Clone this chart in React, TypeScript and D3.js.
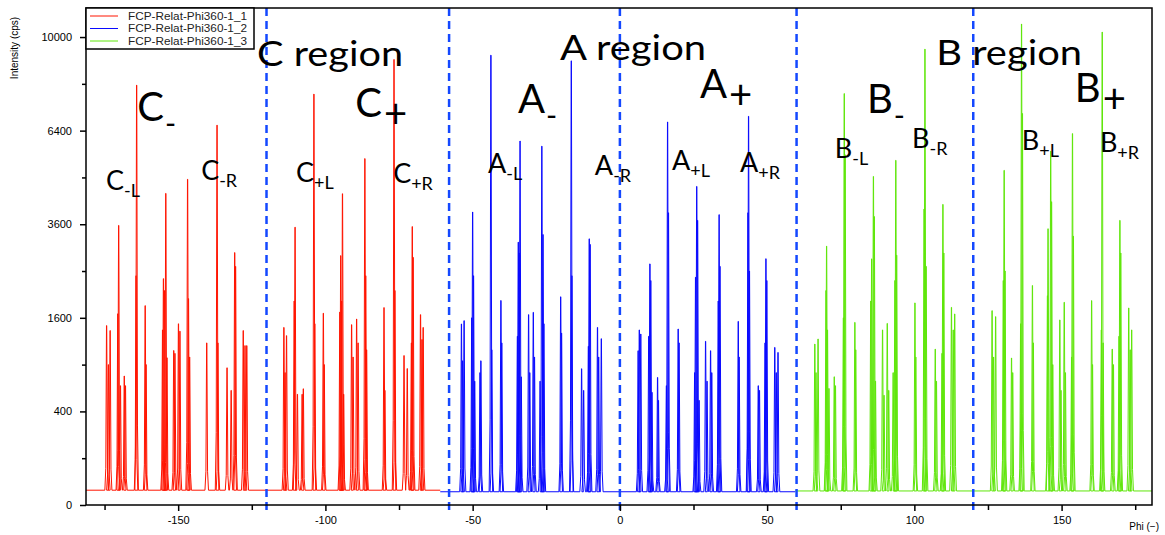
import React, { useRef, useEffect } from 'react';
import * as d3 from 'd3';

// peaks: [phi (deg), intensity (cps)]
const cMinusPeaks: [number, number][] = [
  [-174.3, 1470], [-173.7, 900], [-173.1, 1390], [-170.5, 1670], [-170.2, 3570], [-169.6, 650],
  [-168.3, 760], [-167.9, 650], [-164.3, 2400], [-164.1, 8050], [-161.2, 1815], [-160.9, 900],
  [-155.3, 1400], [-155.0, 2340], [-154.6, 2100], [-154.2, 4435], [-153.8, 990], [-151.5, 1090],
  [-151.1, 1050], [-149.9, 1500], [-149.4, 1380], [-146.8, 4845], [-146.5, 1945], [-146.1, 1000],
  [-140.3, 1200], [-136.8, 6590], [-136.5, 1200], [-133.4, 860], [-132.0, 600], [-130.8, 2910],
  [-130.5, 2600], [-127.9, 1390], [-127.3, 1160], [-126.7, 1160],
];
const cPlusPeaks: [number, number][] = [
  [-114.1, 1440], [-113.7, 800], [-113.2, 1310], [-110.6, 1900], [-110.3, 3525], [-109.5, 560],
  [-107.9, 560], [-107.5, 617], [-103.9, 7710], [-103.6, 1500], [-100.7, 1680], [-100.4, 900],
  [-95.1, 1700], [-94.8, 2840], [-94.5, 1900], [-94.2, 4425], [-93.8, 560], [-91.1, 1485],
  [-90.6, 1000], [-89.4, 1580], [-88.9, 1200], [-86.6, 5480], [-86.3, 2400], [-86.0, 1100],
  [-80.1, 1780], [-79.8, 600], [-76.7, 9065], [-76.4, 2100], [-73.3, 1020], [-72.2, 850],
  [-70.8, 1200], [-70.5, 3540], [-70.2, 2800], [-67.7, 1655], [-67.2, 1250], [-66.8, 1440],
];
const aMinusPeaks: [number, number][] = [
  [-53.8, 1497], [-53.4, 950], [-52.9, 1552], [-50.3, 1600], [-50.0, 3920], [-49.7, 2400],
  [-49.3, 700], [-47.5, 800], [-47.2, 950], [-43.8, 9240], [-43.5, 1100], [-40.4, 1910],
  [-40.1, 1200], [-34.8, 1300], [-34.5, 3155], [-34.2, 2900], [-33.9, 6050], [-33.5, 750],
  [-31.0, 1655], [-30.6, 800], [-29.4, 1695], [-29.0, 1000], [-27.1, 700], [-26.5, 5880],
  [-26.1, 3340], [-25.8, 1500], [-20.1, 1980], [-19.8, 1350], [-16.5, 9010], [-16.3, 2400],
  [-13.0, 848], [-12.3, 600], [-10.7, 1150], [-10.4, 3236], [-10.1, 3100], [-7.6, 1440],
  [-7.2, 1000], [-6.3, 1263],
];
const aPlusPeaks: [number, number][] = [
  [6.2, 1087], [6.6, 1400], [7.1, 1335], [9.8, 1300], [10.2, 2655], [10.5, 2300], [10.9, 580],
  [12.8, 743], [13.1, 500], [15.8, 650], [16.2, 6700], [16.5, 3900], [19.8, 1415], [20.1, 1200],
  [25.4, 800], [25.7, 2370], [26.1, 4635], [26.4, 3700], [26.9, 500], [29.1, 1224], [29.6, 700],
  [30.8, 1087], [31.2, 800], [33.4, 1900], [33.7, 3850], [34.0, 2600], [40.2, 1540], [40.5, 1000],
  [43.5, 3900], [43.7, 6900], [44.0, 2500], [47.0, 650], [47.4, 600], [49.3, 1200], [49.6, 2770],
  [49.9, 2300], [52.6, 1134], [53.1, 800], [53.7, 1063],
];
const bMinusPeaks: [number, number][] = [
  [66.2, 1183], [66.6, 800], [67.3, 1259], [70.0, 2100], [70.2, 3060], [70.5, 1400], [71.0, 620],
  [72.8, 751], [73.2, 650], [75.9, 1600], [76.2, 7730], [76.5, 5600], [79.8, 1523], [80.1, 1100],
  [85.2, 1900], [85.5, 2767], [86.1, 4930], [86.4, 3800], [86.8, 700], [89.2, 1400], [89.7, 550],
  [90.8, 1506], [91.3, 600], [92.8, 800], [93.4, 2300], [93.7, 5426], [94.0, 2850], [100.2, 1865],
  [100.5, 1000], [103.3, 4000], [103.6, 9490], [104.0, 2600], [107.1, 1110], [107.5, 700],
  [109.4, 1050], [109.7, 4127], [110.0, 2900], [112.6, 1784], [113.2, 1400], [113.7, 1667],
];
const bPlusPeaks: [number, number][] = [
  [126.4, 1725], [126.9, 1000], [127.6, 1620], [130.2, 2300], [130.5, 5115], [130.8, 2500],
  [133.0, 987], [133.4, 800], [136.1, 1500], [136.4, 10565], [136.7, 7000], [140.1, 2200],
  [140.4, 1200], [145.2, 2000], [145.4, 3485], [146.3, 5720], [146.6, 4200], [147.0, 900],
  [149.4, 1564], [149.8, 600], [150.9, 1877], [151.3, 800], [153.4, 1000], [153.7, 6300],
  [154.0, 3300], [160.2, 1908], [160.5, 900], [163.5, 1400], [163.8, 10215], [164.1, 1200],
  [167.2, 1110], [167.6, 900], [169.5, 1300], [169.8, 3700], [170.1, 2900], [172.8, 1773],
  [173.3, 1100], [173.8, 1400],
];

const seriesNames = ['FCP-Relat-Phi360-1_1', 'FCP-Relat-Phi360-1_2', 'FCP-Relat-Phi360-1_3'];
const seriesPeaks = [cMinusPeaks.concat(cPlusPeaks), aMinusPeaks.concat(aPlusPeaks), bMinusPeaks.concat(bPlusPeaks)];
const seriesSpan = [[-181.3, -61], [-61, 59.5], [59.5, 180.7]];
const seriesBase = [10, 8, 9];
const seriesColors = ['#ff1400', '#0a0aff', '#5fe60a'];

const regionBounds = [-120, -58, 0, 60, 120];
const yTicks = [0, 400, 1600, 3600, 6400, 10000];
const yMinorTicks = [100, 900, 2500, 4900, 8100];
const xTicks = [-150, -100, -50, 0, 50, 100, 150];
const xMinorTicks = [-175, -125, -75, -25, 25, 75, 125, 175];

// annotations anchored in data coords: [text, phi, cps]
const regionLabels: [string, number, number][] = [
  ['C region', -123.2, 8800], ['A region', -20.3, 9040], ['B region', 107.4, 8840],
];
const bigLabels: [string, string, number, number][] = [
  ['C', '-', -163.9, 6730], ['C', '+', -89.9, 6870], ['A', '-', -34.6, 7015],
  ['A', '+', 27.2, 7565], ['B', '-', 83.9, 7015], ['B', '+', 154.5, 7410],
];
const subLabels: [string, string, number, number][] = [
  ['C', '-L', -174.5, 4530], ['C', '-R', -142.2, 4820], ['C', '+L', -110, 4760], ['C', '+R', -77, 4735],
  ['A', '-L', -44.8, 5030], ['A', '-R', -8.5, 4970], ['A', '+L', 17.7, 5120], ['A', '+R', 40.8, 5060],
  ['B', '-L', 73, 5490], ['B', '-R', 99.2, 5820], ['B', '+L', 136.5, 5750], ['B', '+R', 163, 5690],
];

// peak outline: foot half-width, foot height (share of peak), base half-width
const PEAK_BASE = 0.6;
const PEAK_FOOT = 0.28;
const FOOT_SHARE = 0.035;

const App = () => {
  const svgRef = useRef<SVGSVGElement>(null);
  const width = 1165;
  const height = 535;
  const margin = { top: 8, right: 13, bottom: 30, left: 86 };

  useEffect(() => {
    const svg = d3.select(svgRef.current);
    svg.selectAll('*').remove();

    const x = d3.scaleLinear().domain([-181.3, 180.7]).range([margin.left, width - margin.right]);
    const y = d3.scaleSqrt().domain([0, 11280]).range([height - margin.bottom, margin.top]);

    svg.append('rect').attr('width', width).attr('height', height).attr('fill', '#fff');

    const line = d3.line<[number, number]>().x(d => x(d[0])).y(d => y(d[1]));

    seriesPeaks.forEach((peaks, i) => {
      const base = seriesBase[i];
      const pts: [number, number][] = [[seriesSpan[i][0], base]];
      peaks.slice().sort((a, b) => a[0] - b[0]).forEach(([p, h]) => {
        const foot = base + h * FOOT_SHARE;
        pts.push(
          [p - PEAK_BASE, base], [p - PEAK_FOOT, foot], [p - 0.04, h],
          [p + 0.04, h], [p + PEAK_FOOT, foot], [p + PEAK_BASE, base],
        );
      });
      pts.push([seriesSpan[i][1], base]);
      svg.append('path')
        .attr('d', line(pts))
        .attr('fill', 'none')
        .attr('stroke', seriesColors[i])
        .attr('stroke-width', 1)
        .attr('stroke-linejoin', 'round');
    });

    // region separators
    svg.append('g').selectAll('line')
      .data(regionBounds)
      .join('line')
      .attr('x1', d => x(d)).attr('x2', d => x(d))
      .attr('y1', margin.top).attr('y2', height - margin.bottom + 8)
      .attr('stroke', '#1448ff')
      .attr('stroke-width', 2.5)
      .attr('stroke-dasharray', '8,5');

    // frame
    svg.append('rect')
      .attr('x', margin.left).attr('y', margin.top)
      .attr('width', width - margin.left - margin.right)
      .attr('height', height - margin.top - margin.bottom)
      .attr('fill', 'none').attr('stroke', '#000').attr('stroke-width', 1.5);

    const tickFont = (g: any) => g.selectAll('text')
      .attr('font-family', 'Liberation Sans, Arial, sans-serif')
      .attr('font-size', 11)
      .attr('fill', '#000');

    svg.append('g')
      .attr('transform', `translate(${margin.left},0)`)
      .call(d3.axisLeft(y).tickValues(yTicks).tickSize(6).tickPadding(8).tickSizeOuter(0).tickFormat(d => String(d)))
      .call(g => g.select('.domain').remove())
      .call(tickFont);
    svg.append('g')
      .attr('transform', `translate(${margin.left},0)`)
      .call(d3.axisLeft(y).tickValues(yMinorTicks).tickSize(4).tickFormat(() => ''))
      .call(g => g.select('.domain').remove());

    svg.append('g')
      .attr('transform', `translate(0,${height - margin.bottom})`)
      .call(d3.axisBottom(x).tickValues(xTicks).tickSize(6).tickSizeOuter(0).tickFormat(d => String(d)))
      .call(g => g.select('.domain').remove())
      .call(tickFont)
      .call(g => g.selectAll('text').attr('dy', '0.95em'));
    svg.append('g')
      .attr('transform', `translate(0,${height - margin.bottom})`)
      .call(d3.axisBottom(x).tickValues(xMinorTicks).tickSize(5).tickFormat(() => ''))
      .call(g => g.select('.domain').remove());

    svg.selectAll('.tick line').attr('stroke-width', 1.5);

    svg.append('text')
      .attr('transform', `translate(18,48) rotate(-90)`)
      .attr('text-anchor', 'middle')
      .attr('font-family', 'Liberation Sans, Arial, sans-serif')
      .attr('font-size', 10)
      .text('Intensity (cps)');

    svg.append('text')
      .attr('x', width - 6).attr('y', height - 5)
      .attr('text-anchor', 'end')
      .attr('font-family', 'Liberation Sans, Arial, sans-serif')
      .attr('font-size', 10)
      .text('Phi (−)');

    // annotations
    const ann = svg.append('g').attr('font-family', 'Lato, "Open Sans", sans-serif').attr('fill', '#000');

    ann.selectAll('text.region')
      .data(regionLabels)
      .join('text')
      .attr('class', 'region')
      .attr('x', d => x(d[1])).attr('y', d => y(d[2]))
      .attr('font-size', 35)
      .attr('textLength', 146)
      .attr('lengthAdjust', 'spacingAndGlyphs')
      .text(d => d[0]);

    bigLabels.forEach(([main, sub, p, c]) => {
      const t = ann.append('text').attr('x', x(p)).attr('y', y(c)).attr('font-size', 40);
      t.append('tspan').text(main);
      if (sub === '+') {
        t.append('tspan').attr('dy', 11).attr('dx', 2).text('+');
      } else {
        t.append('tspan').attr('dy', 13).attr('dx', 1).attr('font-size', 30).text('-');
      }
    });

    subLabels.forEach(([main, sub, p, c]) => {
      const t = ann.append('text').attr('x', x(p)).attr('y', y(c)).attr('font-size', 27);
      t.append('tspan').text(main);
      t.append('tspan').attr('dy', 7).attr('font-size', 18).text(sub);
    });

    // legend
    const lg = svg.append('g').attr('transform', `translate(${margin.left},${margin.top})`);
    lg.append('rect').attr('width', 168).attr('height', 41)
      .attr('fill', '#fff').attr('stroke', '#000').attr('stroke-width', 1.5);
    seriesNames.forEach((name, i) => {
      const yy = 8 + i * 12.5;
      lg.append('line').attr('x1', 4).attr('x2', 32).attr('y1', yy).attr('y2', yy)
        .attr('stroke', seriesColors[i]).attr('stroke-width', 1);
      lg.append('text').attr('x', 42).attr('y', yy).attr('dy', '0.35em')
        .attr('font-family', 'Liberation Sans, Arial, sans-serif')
        .attr('font-size', 10.5)
        .attr('textLength', 119).attr('lengthAdjust', 'spacingAndGlyphs')
        .attr('fill', '#222')
        .text(name);
    });
  }, []);

  return (
    <div style={{ position: 'absolute', left: 0, top: 0 }}>
      <svg ref={svgRef} width={width} height={height} style={{ display: 'block' }} />
    </div>
  );
};

export default App;
